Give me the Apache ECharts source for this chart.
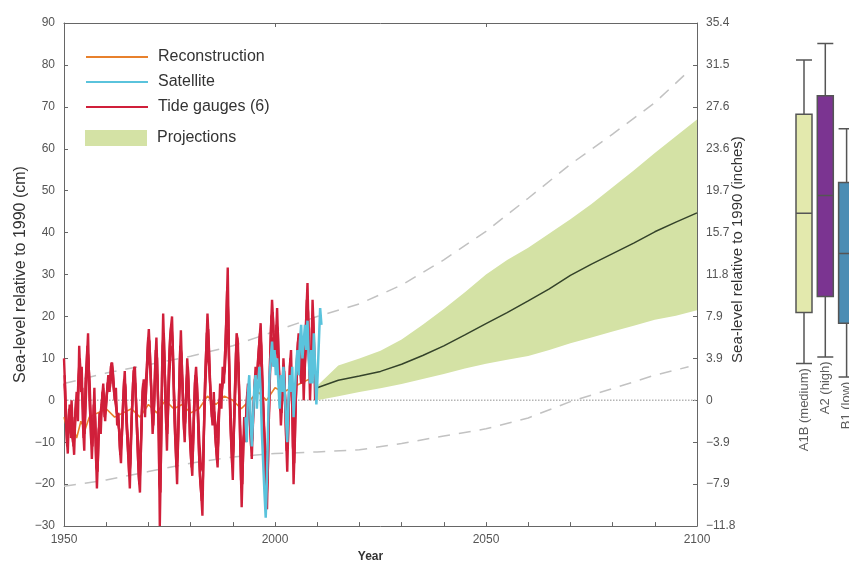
<!DOCTYPE html>
<html>
<head>
<meta charset="utf-8">
<script src="https://cdn.jsdelivr.net/npm/echarts@6.0.0/dist/echarts.min.js"></script>
<style>
  html, body { margin: 0; padding: 0; background: #fff; }
  #chart { width: 849px; height: 568px; }
</style>
</head>
<body>
<div id="chart"></div>
<script>
// ---- data (cm relative to 1990) ----
const yearLabels = [1950, 2000, 2050, 2100];
const inchLabels = ["-11.8", "-7.9", "-3.9", "0", "3.9", "7.9", "11.8", "15.7", "19.7", "23.6", "27.6", "31.5", "35.4"];

// tide gauges, three of the overlapping records: [year, cm]
const tideGaugeA = [
  [1950.0, 10], [1950.3, 2], [1950.6, -8], [1950.9, -12.7], [1951.2, -2], [1951.5, -6], [1951.8, 0],
  [1952.1, -8], [1952.4, -13], [1952.7, -3], [1953.0, 2], [1953.3, -5], [1953.6, 13], [1953.9, 5],
  [1954.2, 8], [1954.5, -6], [1954.8, -12], [1955.1, 4], [1955.4, 9], [1955.7, 16], [1956.0, 2],
  [1956.3, -5], [1956.6, -14], [1956.9, -6], [1957.2, 3], [1957.5, -10], [1957.8, -21], [1958.1, -12],
  [1958.4, -3], [1958.7, -8], [1959.0, 0], [1959.3, 4], [1959.6, -4], [1959.9, -2], [1960.2, 2],
  [1960.5, 6], [1960.8, 2], [1961.1, 8], [1961.4, 9], [1961.7, 5], [1962.0, 0], [1962.3, 3],
  [1962.6, -6], [1962.9, -3], [1963.2, -11], [1963.5, -15], [1963.8, -6], [1964.1, 2], [1964.4, 7],
  [1964.7, -3], [1965.0, -9], [1965.3, -14], [1965.6, -21], [1965.9, -8], [1966.2, 0], [1966.5, 7],
  [1966.8, 8], [1967.1, -2], [1967.4, -10], [1967.7, -18], [1968.0, -22], [1968.3, -8], [1968.6, 2],
  [1968.9, 5], [1969.2, -4], [1969.5, 4], [1969.8, 12], [1970.1, 17], [1970.4, 10], [1970.7, 2],
  [1971.0, -8], [1971.3, -3], [1971.6, 8], [1971.9, 15], [1972.2, 4], [1972.5, -10], [1972.7, -30],
  [1973.0, -12], [1973.2, 5], [1973.5, 20.7], [1973.8, 10], [1974.1, -2], [1974.4, -12], [1974.7, 2],
  [1975.0, 12], [1975.3, 17], [1975.6, 20], [1975.9, 8], [1976.2, -5], [1976.5, -12], [1976.8, -20],
  [1977.1, -6], [1977.4, 8], [1977.7, 16.7], [1978.0, 6], [1978.3, -4], [1978.6, -10], [1978.9, 0],
  [1979.2, 10], [1979.5, 5], [1979.8, -8], [1980.1, -14], [1980.4, -18], [1980.7, -6], [1981.0, 4],
  [1981.3, 8], [1981.6, 2], [1981.9, -10], [1982.2, -18], [1982.5, -22], [1982.8, -27.5], [1983.1, -10],
  [1983.4, 4], [1983.7, 12], [1984.0, 20.7], [1984.3, 14], [1984.6, 4], [1984.9, -2], [1985.2, -6],
  [1985.5, 2], [1985.8, -8], [1986.1, -12], [1986.4, -16], [1986.7, -4], [1987.0, 4], [1987.3, -2],
  [1987.6, 8], [1987.9, 4], [1988.2, 12], [1988.5, 20], [1988.8, 31.7], [1989.1, 10], [1989.4, -5],
  [1989.7, -12], [1990.0, -19], [1990.3, -5], [1990.6, 6], [1990.9, 16], [1991.2, 14], [1991.5, 2],
  [1991.8, -12], [1992.1, -25.5], [1992.4, -14], [1992.7, -4], [1993.0, -10], [1993.3, 0], [1993.6, 4],
  [1993.9, -3], [1994.2, -8], [1994.5, -14], [1994.8, -4], [1995.1, 2], [1995.4, 8], [1995.7, 5],
  [1996.0, 10], [1996.3, 14], [1996.6, 18.4], [1996.9, 8], [1997.2, -2], [1997.5, -10], [1997.8, -22],
  [1998.1, -26], [1998.4, -12], [1998.7, 4], [1999.0, 16], [1999.3, 24], [1999.6, 18], [1999.9, 8],
  [2000.2, 14], [2000.5, 22], [2000.8, 12], [2001.1, 2], [2001.4, -6], [2001.7, 0], [2002.0, 10],
  [2002.3, 4], [2002.6, -8], [2002.9, -17], [2003.2, -4], [2003.5, 8], [2003.8, 12], [2004.1, -2],
  [2004.4, -20], [2004.7, -10], [2005.0, 4], [2005.3, 12], [2005.6, 16], [2005.9, 8], [2006.2, 4],
  [2006.5, 14], [2006.8, 0], [2007.1, 10], [2007.4, 20], [2007.7, 28], [2008.0, 14], [2008.3, 0],
  [2008.6, 10], [2008.9, 24], [2009.2, 16], [2009.5, 0]
];
const tideGaugeB = [
  [1950.15, 6], [1950.45, -3], [1950.75, -11], [1951.05, -6], [1951.35, -1], [1951.65, -9], [1951.95, -4],
  [1952.25, -11], [1952.55, -7], [1952.85, 0], [1953.15, -2], [1953.45, 6], [1953.75, 10], [1954.05, 2],
  [1954.35, 3], [1954.65, -9], [1954.95, -4], [1955.25, 7], [1955.55, 13], [1955.85, 8], [1956.15, -2],
  [1956.45, -10], [1956.75, -11], [1957.05, -1], [1957.35, -4], [1957.65, -16], [1957.95, -17], [1958.25, -7],
  [1958.55, -5], [1958.85, -3], [1959.15, 2], [1959.45, 1], [1959.75, -5], [1960.05, 0], [1960.35, 4],
  [1960.65, 5], [1960.95, 4], [1961.25, 9], [1961.55, 7], [1961.85, 2], [1962.15, 1], [1962.45, -2],
  [1962.75, -5], [1963.05, -7], [1963.35, -13], [1963.65, -10], [1963.95, -2], [1964.25, 5], [1964.55, 3],
  [1964.85, -6], [1965.15, -12], [1965.45, -18], [1965.75, -15], [1966.05, -4], [1966.35, 4], [1966.65, 8],
  [1966.95, 3], [1967.25, -6], [1967.55, -14], [1967.85, -20], [1968.15, -15], [1968.45, -3], [1968.75, 4],
  [1969.05, 0], [1969.35, 0], [1969.65, 8], [1969.95, 15], [1970.25, 14], [1970.55, 6], [1970.85, -3],
  [1971.15, -6], [1971.45, 3], [1971.75, 12], [1972.05, 10], [1972.35, -3], [1972.6, -20], [1972.85, -22],
  [1973.1, -4], [1973.35, 13], [1973.65, 16], [1973.95, 4], [1974.25, -7], [1974.55, -6], [1974.85, 7],
  [1975.15, 15], [1975.45, 18], [1975.75, 14], [1976.05, 1], [1976.35, -9], [1976.65, -16], [1976.95, -13],
  [1977.25, 1], [1977.55, 13], [1977.85, 11], [1978.15, 1], [1978.45, -7], [1978.75, -5], [1979.05, 5],
  [1979.35, 8], [1979.65, -2], [1979.95, -11], [1980.25, -16], [1980.55, -12], [1980.85, -1], [1981.15, 6],
  [1981.45, 5], [1981.75, -4], [1982.05, -14], [1982.35, -20], [1982.65, -24], [1982.95, -18], [1983.25, -3],
  [1983.55, 8], [1983.85, 16], [1984.15, 17], [1984.45, 9], [1984.75, 1], [1985.05, -4], [1985.35, -2],
  [1985.65, -3], [1985.95, -10], [1986.25, -14], [1986.55, -10], [1986.85, 0], [1987.15, 1], [1987.45, 3],
  [1987.75, 6], [1988.05, 8], [1988.35, 16], [1988.65, 26], [1988.95, 20], [1989.25, 2], [1989.55, -8],
  [1989.85, -15], [1990.15, -12], [1990.45, 0], [1990.75, 11], [1991.05, 15], [1991.35, 8], [1991.65, -5],
  [1991.95, -19], [1992.25, -20], [1992.55, -9], [1992.85, -7], [1993.15, -5], [1993.45, 2], [1993.75, 1],
  [1994.05, -5], [1994.35, -11], [1994.65, -9], [1994.95, -1], [1995.25, 5], [1995.55, 6], [1995.85, 7],
  [1996.15, 12], [1996.45, 16], [1996.75, 13], [1997.05, 3], [1997.35, -6], [1997.65, -16], [1997.95, -24],
  [1998.25, -19], [1998.55, -4], [1998.85, 10], [1999.15, 20], [1999.45, 21], [1999.75, 13], [2000.05, 11],
  [2000.35, 18], [2000.65, 17], [2000.95, 7], [2001.25, -2], [2001.55, -3], [2001.85, 5], [2002.15, 7],
  [2002.45, -2], [2002.75, -12], [2003.05, -10], [2003.35, 2], [2003.65, 10], [2003.95, 5], [2004.25, -11],
  [2004.55, -15], [2004.85, -3], [2005.15, 8], [2005.45, 14], [2005.75, 12], [2006.05, 6], [2006.35, 9],
  [2006.65, 7], [2006.95, 5], [2007.25, 15], [2007.55, 24], [2007.85, 21], [2008.15, 7], [2008.45, 5],
  [2008.75, 17], [2009.05, 20], [2009.35, 8]
];
const tideGaugeC = [
  [1950.1, 4], [1950.5, -6], [1950.9, -9], [1951.3, -3], [1951.7, -7], [1952.1, -10], [1952.5, -5],
  [1952.9, -1], [1953.3, 1], [1953.7, 9], [1954.1, 4], [1954.5, -2], [1954.9, -8], [1955.3, 3],
  [1955.7, 11], [1956.1, 4], [1956.5, -8], [1956.9, -9], [1957.3, -2], [1957.7, -13], [1958.1, -9],
  [1958.5, -4], [1958.9, -1], [1959.3, 3], [1959.7, -3], [1960.1, 1], [1960.5, 5], [1960.9, 3],
  [1961.3, 7], [1961.7, 4], [1962.1, 0], [1962.5, -3], [1962.9, -5], [1963.3, -10], [1963.7, -8],
  [1964.1, 0], [1964.5, 4], [1964.9, -5], [1965.3, -11], [1965.7, -14], [1966.1, -3], [1966.5, 5],
  [1966.9, 4], [1967.3, -5], [1967.7, -13], [1968.1, -14], [1968.5, -2], [1968.9, 3], [1969.3, -1],
  [1969.7, 7], [1970.1, 12], [1970.5, 7], [1970.9, -4], [1971.3, -2], [1971.7, 8], [1972.1, 6],
  [1972.5, -6], [1972.9, -15], [1973.3, 6], [1973.7, 12], [1974.1, 1], [1974.5, -8], [1974.9, 4],
  [1975.3, 12], [1975.7, 13], [1976.1, 2], [1976.5, -8], [1976.9, -13], [1977.3, -1], [1977.7, 10],
  [1978.1, 4], [1978.5, -6], [1978.9, -2], [1979.3, 6], [1979.7, -1], [1980.1, -9], [1980.5, -12],
  [1980.9, -2], [1981.3, 5], [1981.7, -1], [1982.1, -10], [1982.5, -16], [1982.9, -17], [1983.3, -2],
  [1983.7, 8], [1984.1, 13], [1984.5, 6], [1984.9, -1], [1985.3, -3], [1985.7, -4], [1986.1, -9],
  [1986.5, -9], [1986.9, 0], [1987.3, 1], [1987.7, 5], [1988.1, 7], [1988.5, 14], [1988.9, 17],
  [1989.3, 3], [1989.7, -8], [1990.1, -11], [1990.5, -1], [1990.9, 10], [1991.3, 9], [1991.7, -4],
  [1992.1, -15], [1992.5, -10], [1992.9, -6], [1993.3, -2], [1993.7, 2], [1994.1, -3], [1994.5, -9],
  [1994.9, -2], [1995.3, 4], [1995.7, 4], [1996.1, 8], [1996.5, 12], [1996.9, 6], [1997.3, -3],
  [1997.7, -12], [1998.1, -16], [1998.5, -5], [1998.9, 8], [1999.3, 15], [1999.7, 12], [2000.1, 10],
  [2000.5, 15], [2000.9, 8], [2001.3, -1], [2001.7, 1], [2002.1, 6], [2002.5, -1], [2002.9, -9],
  [2003.3, 0], [2003.7, 8], [2004.1, 2], [2004.5, -9], [2004.9, -1], [2005.3, 8], [2005.7, 11],
  [2006.1, 6], [2006.5, 10], [2006.9, 4], [2007.3, 12], [2007.7, 18], [2008.1, 8], [2008.5, 6],
  [2008.9, 15], [2009.3, 10]
];

// satellite altimetry: [year, cm]
const satellite = [
  [1993.0, -4], [1993.3, -10], [1993.6, 2], [1993.9, 6], [1994.2, -4], [1994.5, -11], [1994.8, -4],
  [1995.1, 3], [1995.4, 6], [1995.7, -2], [1996.0, 4], [1996.3, 8], [1996.6, 2], [1996.9, -8],
  [1997.2, -15], [1997.5, -22], [1997.8, -28], [1998.1, -18], [1998.4, -4], [1998.7, 6], [1999.0, 10],
  [1999.3, 14], [1999.6, 8], [1999.9, 12], [2000.2, 6], [2000.5, 10], [2000.8, 4], [2001.1, -2],
  [2001.4, 6], [2001.7, 2], [2002.0, 8], [2002.3, 2], [2002.6, -4], [2002.9, -10], [2003.2, 0],
  [2003.5, 6], [2003.8, 2], [2004.1, 8], [2004.4, -4], [2004.7, 2], [2005.0, 8], [2005.3, 12],
  [2005.6, 6], [2005.9, 14], [2006.2, 18], [2006.5, 10], [2006.8, 14], [2007.1, 18], [2007.4, 12],
  [2007.7, 19], [2008.0, 10], [2008.3, 4], [2008.6, 12], [2008.9, 4], [2009.2, 16], [2009.5, 8],
  [2009.8, -1], [2010.1, 6], [2010.4, 14], [2010.7, 22], [2011.0, 18]
];

// reconstruction: [year, cm]
const reconstruction = [
  [1950, -4], [1951, -8], [1952, -6], [1953, -9], [1954, -5], [1955, -7], [1956, -4], [1958, -3],
  [1960, -2], [1962, -4], [1964, -3], [1966, -2], [1968, -4], [1970, -1], [1972, -3], [1974, 0],
  [1976, -2], [1978, -1], [1980, -3], [1982, -2], [1984, 1], [1986, -1], [1988, 1], [1990, 0],
  [1992, -2], [1994, 0], [1996, 2], [1998, 0], [2000, 3], [2002, 2], [2004, 3], [2006, 4],
  [2008, 5], [2010, 4]
];

// projections
const projYears  = [2010, 2015, 2020, 2025, 2030, 2035, 2040, 2045, 2050, 2055, 2060, 2065, 2070, 2075, 2080, 2085, 2090, 2095, 2100];
const projLower  = [0, 1, 2, 2.9, 3.9, 5.1, 6.3, 7.6, 8.7, 9.7, 10.6, 12, 13.6, 15, 16.4, 17.8, 19.2, 20.2, 21.5];
const projUpper  = [3.5, 8.3, 10, 11.8, 14.5, 18, 21.8, 25.8, 30, 33.5, 36.4, 39.8, 43.2, 46.8, 50.8, 54.8, 59, 63, 67];
const projMedian = [3, 4.8, 5.8, 6.9, 8.6, 10.7, 13, 15.6, 18.3, 20.9, 23.7, 26.6, 29.8, 32.5, 35, 37.5, 40.2, 42.5, 44.7];

// dashed outer bounds
const boundYears = [1950, 1960, 1970, 1980, 1990, 2000, 2010, 2020, 2030, 2040, 2050, 2060, 2070, 2080, 2090, 2098];
const boundUpper = [4, 6.5, 8.5, 10.5, 13, 16.5, 20, 23, 27.5, 33.5, 40.3, 48.2, 56.3, 63.5, 71, 78.5];
const boundLower = [-20.5, -19, -17, -15, -13.5, -12.7, -12.3, -11.8, -10.3, -8.5, -6.8, -4.2, -0.3, 2.8, 6, 8];

// 2100 scenario boxes: [min, q1, median, q3, max]
const boxNames = ["A1B (medium)", "A2 (high)", "B1 (low)"];
const boxStats = [
  [8.9, 21.1, 44.7, 68.3, 81.2],
  [10.5, 24.9, 48.9, 72.7, 85.1],
  [5.7, 18.5, 35.1, 52.0, 64.8]
];
const boxColors = ["#e3e9ad", "#7b3491", "#4b8db4"];

const FONT = "Liberation Sans, Arial, sans-serif";
const GREEN = "#d4e2a5";
const RED = "#d01f3a";
const minus = s => String(s).replace("-", "\u2212");
const zip = (xs, ys) => xs.map((x, i) => [x, ys[i]]);

const chart = echarts.init(document.getElementById("chart"));

const axisGray = "#666";
const legendText = { fontSize: 16, color: "#333", padding: [0, 0, 0, 5] };

const tideSeries = (data, width) => ({
  name: "Tide gauges (6)", type: "line", data: data, symbol: "none", z: 6,
  itemStyle: { color: RED }, lineStyle: { color: RED, width: width }
});

const option = {
  animation: false,
  textStyle: { fontFamily: FONT },
  grid: [
    { left: 64, right: 152, top: 23, bottom: 41 },
    { left: 804, width: 42.6, top: 23, bottom: 41 }
  ],
  legend: [
    {
      data: ["Reconstruction", "Satellite", "Tide gauges (6)"],
      orient: "vertical", left: 85, top: 49, padding: 0,
      itemWidth: 62, itemHeight: 14, itemGap: 9,
      itemStyle: { opacity: 0 },
      selectedMode: false,
      textStyle: legendText
    },
    {
      data: [{ name: "Projections", icon: "rect" }],
      orient: "vertical", left: 85, top: 130, padding: 0,
      itemWidth: 62, itemHeight: 16,
      selectedMode: false,
      textStyle: legendText
    }
  ],
  xAxis: [
    {
      type: "value", gridIndex: 0, min: 1950, max: 2100, interval: 10,
      name: "Year", nameLocation: "middle", nameGap: 24,
      nameTextStyle: { fontWeight: "bold", fontSize: 12, color: "#333", padding: [0, 20, 0, 0] },
      axisLine: { onZero: false, lineStyle: { color: axisGray } },
      axisTick: { inside: true, length: 4, lineStyle: { color: axisGray } },
      axisLabel: {
        color: "#555", fontSize: 12, margin: 8,
        formatter: v => (yearLabels.indexOf(v) >= 0 ? String(v) : "")
      },
      splitLine: { show: false }
    },
    {
      type: "value", gridIndex: 0, position: "top", min: 1950, max: 2100, interval: 50,
      axisLine: { onZero: false, lineStyle: { color: axisGray } },
      axisTick: { inside: true, length: 4, lineStyle: { color: axisGray } },
      axisLabel: { show: false },
      splitLine: { show: false }
    },
    { type: "category", gridIndex: 1, data: boxNames, boundaryGap: false, show: false }
  ],
  yAxis: [
    {
      type: "value", gridIndex: 0, min: -30, max: 90, interval: 10, position: "left",
      name: "Sea-level relative to 1990 (cm)", nameLocation: "middle", nameGap: 35, nameRotate: 90,
      nameMoveOverlap: false,
      nameTextStyle: { fontSize: 16, color: "#333" },
      axisLine: { show: true, lineStyle: { color: axisGray } },
      axisTick: { show: true, inside: true, length: 4, lineStyle: { color: axisGray } },
      axisLabel: { color: "#555", fontSize: 12, margin: 9, formatter: v => minus(v) },
      splitLine: { show: false }
    },
    {
      type: "value", gridIndex: 0, min: -30, max: 90, interval: 10, position: "right",
      name: "Sea-level relative to 1990 (inches)", nameLocation: "middle", nameGap: 33, nameRotate: 90,
      nameMoveOverlap: false,
      nameTextStyle: { fontSize: 15, color: "#333", padding: [0, 0, 0, 50] },
      axisLine: { show: true, lineStyle: { color: axisGray } },
      axisTick: { show: true, inside: true, length: 4, lineStyle: { color: axisGray } },
      axisLabel: {
        color: "#555", fontSize: 12, margin: 9,
        formatter: v => minus(inchLabels[Math.round((v + 30) / 10)])
      },
      splitLine: { show: false }
    },
    { type: "value", gridIndex: 1, min: -30, max: 90, show: false }
  ],
  series: [
    {
      name: "zero", type: "line", data: [[1950, 0], [2100, 0]], symbol: "none", silent: true, z: 1,
      lineStyle: { color: "#b5b5b5", width: 1.5, type: "dotted" }
    },
    {
      name: "Projections", type: "custom", silent: true, z: 2,
      data: projYears.map((y, i) => [y, projLower[i], projUpper[i]]),
      encode: { x: 0, y: [1, 2] },
      itemStyle: { color: GREEN },
      renderItem: (params, api) => {
        if (params.dataIndex !== 0) return null;
        const top = projYears.map((y, i) => api.coord([y, projUpper[i]]));
        const bottom = projYears.map((y, i) => api.coord([y, projLower[i]])).reverse();
        return { type: "polygon", shape: { points: top.concat(bottom) }, style: { fill: GREEN } };
      }
    },
    {
      name: "upperBound", type: "line", data: zip(boundYears, boundUpper), symbol: "none", silent: true, z: 3,
      lineStyle: { color: "#c2c2c2", width: 1.5, type: [12, 9] }
    },
    {
      name: "lowerBound", type: "line", data: zip(boundYears, boundLower), symbol: "none", silent: true, z: 3,
      lineStyle: { color: "#c2c2c2", width: 1.5, type: [12, 9] }
    },
    {
      name: "median", type: "line", data: zip(projYears, projMedian), symbol: "none", silent: true, z: 4,
      lineStyle: { color: "#34432a", width: 1.5 }
    },
    {
      name: "Reconstruction", type: "line", data: reconstruction, symbol: "none", z: 5,
      itemStyle: { color: "#e8812c" }, lineStyle: { color: "#e8812c", width: 1.6 }
    },
    tideSeries(tideGaugeC, 2.2),
    tideSeries(tideGaugeB, 2.4),
    tideSeries(tideGaugeA, 2.4),
    {
      name: "Satellite", type: "line", data: satellite, symbol: "none", z: 7,
      itemStyle: { color: "#5ac3dc" }, lineStyle: { color: "#5ac3dc", width: 2.5 }
    },
    {
      name: "scenarios", type: "boxplot", xAxisIndex: 2, yAxisIndex: 2,
      boxWidth: [16, 16],
      data: boxStats.map((s, i) => ({
        value: s,
        itemStyle: { color: boxColors[i], borderColor: "#555", borderWidth: 1.5 }
      }))
    },
    {
      name: "scenarioLabels", type: "scatter", xAxisIndex: 2, yAxisIndex: 2, silent: true,
      data: boxNames.map((n, i) => [n, boxStats[i][0]]),
      symbolSize: 1, itemStyle: { color: "rgba(0,0,0,0)" },
      label: {
        show: true, position: "bottom", distance: 4, rotate: 90,
        align: "right", verticalAlign: "middle",
        fontSize: 13, color: "#333",
        formatter: p => p.value[0]
      }
    }
  ]
};

chart.setOption(option);
</script>
</body>
</html>
